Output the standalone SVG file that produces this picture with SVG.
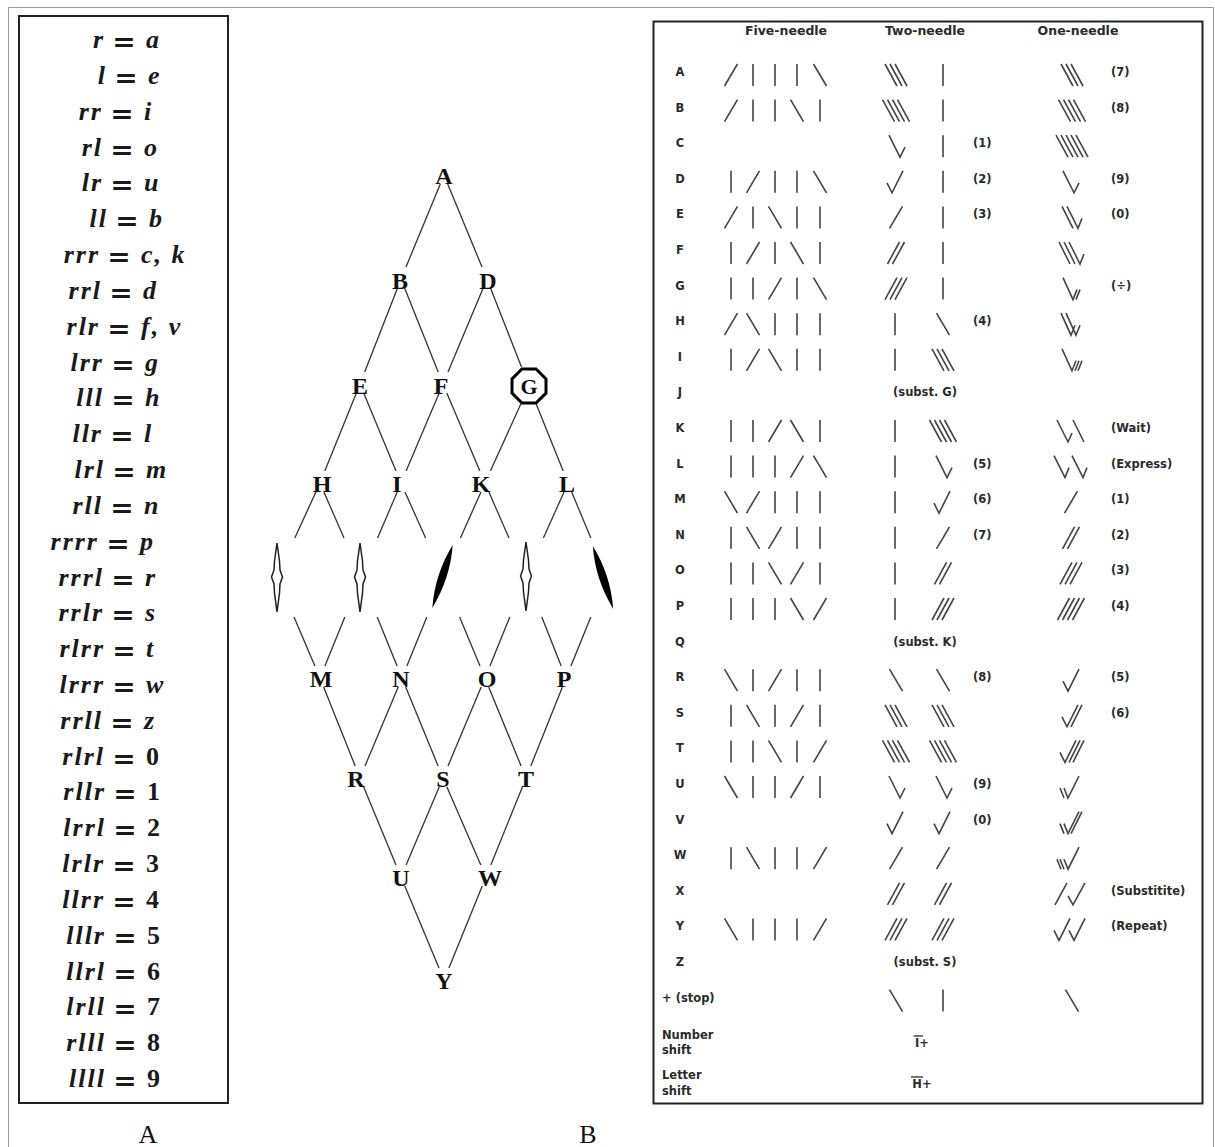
<svg xmlns="http://www.w3.org/2000/svg" width="1215" height="1147" viewBox="0 0 1215 1147">
<style>
.fx{font-family:"Liberation Serif",serif;font-size:26px;font-style:italic;font-weight:bold;fill:#1a1a1a;letter-spacing:2px}
.fe{text-anchor:end}
.eq{font-family:"DejaVu Serif",serif;font-size:28px;font-weight:bold;fill:#1a1a1a;text-anchor:middle}
.dg{font-style:normal;letter-spacing:0}
.nd{font-family:"Liberation Serif",serif;font-size:24px;font-weight:bold;fill:#111;text-anchor:middle}
.t{font-family:"DejaVu Sans",sans-serif;font-size:11.5px;font-weight:bold;fill:#2a2a2a}
.c{text-anchor:middle}
.h{font-size:12.5px;text-anchor:middle}
.ln{stroke:#333;stroke-width:1.3}
.cap{font-family:"Liberation Serif",serif;font-size:26px;fill:#111;text-anchor:middle}
</style>
<defs>
<path id="v" d="M0,-11V11"/>
<path id="f" d="M-6.5,11L6.5,-11"/>
<path id="b" d="M-6.5,-11L6.5,11"/>
<path id="b3" d="M-11,-11L1,11M-6,-11L6,11M-1,-11L11,11"/>
<path id="b4" d="M-13.5,-11L-1.5,11M-8.5,-11L3.5,11M-3.5,-11L8.5,11M1.5,-11L13.5,11"/>
<path id="b5" d="M-16,-11L-4,11M-11,-11L1,11M-6,-11L6,11M-1,-11L11,11M4,-11L16,11"/>
<path id="f2" d="M-8.5,11L3.5,-11M-3.5,11L8.5,-11"/>
<path id="f3" d="M-11,11L1,-11M-6,11L6,-11M-1,11L11,-11"/>
<path id="f4" d="M-13.5,11L-1.5,-11M-8.5,11L3.5,-11M-3.5,11L8.5,-11M1.5,11L13.5,-11"/>
<path id="bh" d="M-7,-11L4,11L9,1"/>
<path id="ck" d="M-9,1L-4,11L7,-11"/>
<path id="bbh" d="M-10,-11L1,11M-5,-11L6,11L10,1"/>
<path id="bbbh" d="M-13,-11L-2,11M-8,-11L3,11M-3,-11L8,11L12,1"/>
<path id="g1" d="M-8,-11L2,11L6,1M5,11L9,1"/>
<path id="h1" d="M-10,-11L0,11L4,1M-5,-11L5,11L9,1"/>
<path id="i1" d="M-8,-11L2,11L6,1M5,11L9,1M8,11L12,1"/>
<path id="k1" d="M-15,-11L-4,11L0,2M1,-11L12,11"/>
<path id="l1" d="M-18,-11L-7,11L-3,1M0,-11L11,11L15,1"/>
<path id="ckf" d="M-10,1L-5,11L6,-11M-1,11L10,-11"/>
<path id="ckff" d="M-12,1L-7,11L4,-11M-3,11L8,-11M1,11L12,-11"/>
<path id="u1" d="M-12,1L-8,11M-8,1L-4,11L7,-11"/>
<path id="v1" d="M-12,1L-8,11M-8,1L-4,11L7,-11M-1,11L10,-11"/>
<path id="w1" d="M-15,1L-11,11M-12,1L-8,11M-8,1L-4,11L7,-11"/>
<path id="x1" d="M-17,11L-5,-11M-4,2L1,11L13,-11"/>
<path id="y1" d="M-18,1L-13,11L-2,-11M-3,1L2,11L13,-11"/>
<path id="needleOpen" d="M0,-34L2.5,-16L3,-7L5.5,0L3,7L2.5,16L0,35L-2.5,16L-3,7L-5.5,0L-3,-7L-2.5,-16Z"/>
<path id="needleFill" d="M0,-33Q8,0 0,33Q-8,0 0,-33Z"/>
</defs>
<rect width="1215" height="1147" fill="#fff"/>
<path d="M8.5,1147V7.5H1213.5V1147" fill="none" stroke="#999" stroke-width="1"/>

<!-- Panel A: formulas -->
<g id="panel-A">
<rect x="19" y="16" width="209" height="1087" fill="none" stroke="#222" stroke-width="2"/>
<text class="fx fe" x="105" y="48">r</text><text class="eq" x="124" y="51">=</text><text class="fx" x="146" y="48">a</text>
<text class="fx fe" x="107" y="83.8">l</text><text class="eq" x="126" y="86.8">=</text><text class="fx" x="148" y="83.8">e</text>
<text class="fx fe" x="103" y="119.7">rr</text><text class="eq" x="122" y="122.7">=</text><text class="fx" x="144" y="119.7">i</text>
<text class="fx fe" x="103" y="155.5">rl</text><text class="eq" x="122" y="158.5">=</text><text class="fx" x="144" y="155.5">o</text>
<text class="fx fe" x="103" y="191.3">lr</text><text class="eq" x="122" y="194.3">=</text><text class="fx" x="144" y="191.3">u</text>
<text class="fx fe" x="108" y="227.2">ll</text><text class="eq" x="127" y="230.2">=</text><text class="fx" x="149" y="227.2">b</text>
<text class="fx fe" x="100" y="263">rrr</text><text class="eq" x="119" y="266">=</text><text class="fx" x="141" y="263">c, k</text>
<text class="fx fe" x="102" y="298.8">rrl</text><text class="eq" x="121" y="301.8">=</text><text class="fx" x="143" y="298.8">d</text>
<text class="fx fe" x="100" y="334.6">rlr</text><text class="eq" x="119" y="337.6">=</text><text class="fx" x="141" y="334.6">f, v</text>
<text class="fx fe" x="104" y="370.5">lrr</text><text class="eq" x="123" y="373.5">=</text><text class="fx" x="145" y="370.5">g</text>
<text class="fx fe" x="104" y="406.3">lll</text><text class="eq" x="123" y="409.3">=</text><text class="fx" x="145" y="406.3">h</text>
<text class="fx fe" x="103" y="442.1">llr</text><text class="eq" x="122" y="445.1">=</text><text class="fx" x="144" y="442.1">l</text>
<text class="fx fe" x="105" y="478">lrl</text><text class="eq" x="124" y="481">=</text><text class="fx" x="146" y="478">m</text>
<text class="fx fe" x="103" y="513.8">rll</text><text class="eq" x="122" y="516.8">=</text><text class="fx" x="144" y="513.8">n</text>
<text class="fx fe" x="99" y="549.6">rrrr</text><text class="eq" x="118" y="552.6">=</text><text class="fx" x="140" y="549.6">p</text>
<text class="fx fe" x="104" y="585.5">rrrl</text><text class="eq" x="123" y="588.5">=</text><text class="fx" x="145" y="585.5">r</text>
<text class="fx fe" x="104" y="621.3">rrlr</text><text class="eq" x="123" y="624.3">=</text><text class="fx" x="145" y="621.3">s</text>
<text class="fx fe" x="105" y="657.1">rlrr</text><text class="eq" x="124" y="660.1">=</text><text class="fx" x="146" y="657.1">t</text>
<text class="fx fe" x="105" y="692.9">lrrr</text><text class="eq" x="124" y="695.9">=</text><text class="fx" x="146" y="692.9">w</text>
<text class="fx fe" x="103" y="728.8">rrll</text><text class="eq" x="122" y="731.8">=</text><text class="fx" x="144" y="728.8">z</text>
<text class="fx fe" x="105" y="764.6">rlrl</text><text class="eq" x="124" y="767.6">=</text><text class="fx dg" x="146" y="764.6">0</text>
<text class="fx fe" x="106" y="800.4">rllr</text><text class="eq" x="125" y="803.4">=</text><text class="fx dg" x="147" y="800.4">1</text>
<text class="fx fe" x="106" y="836.3">lrrl</text><text class="eq" x="125" y="839.3">=</text><text class="fx dg" x="147" y="836.3">2</text>
<text class="fx fe" x="105" y="872.1">lrlr</text><text class="eq" x="124" y="875.1">=</text><text class="fx dg" x="146" y="872.1">3</text>
<text class="fx fe" x="105" y="907.9">llrr</text><text class="eq" x="124" y="910.9">=</text><text class="fx dg" x="146" y="907.9">4</text>
<text class="fx fe" x="106" y="943.8">lllr</text><text class="eq" x="125" y="946.8">=</text><text class="fx dg" x="147" y="943.8">5</text>
<text class="fx fe" x="106" y="979.6">llrl</text><text class="eq" x="125" y="982.6">=</text><text class="fx dg" x="147" y="979.6">6</text>
<text class="fx fe" x="106" y="1015.4">lrll</text><text class="eq" x="125" y="1018.4">=</text><text class="fx dg" x="147" y="1015.4">7</text>
<text class="fx fe" x="106" y="1051.2">rlll</text><text class="eq" x="125" y="1054.2">=</text><text class="fx dg" x="147" y="1051.2">8</text>
<text class="fx fe" x="106" y="1087.1">llll</text><text class="eq" x="125" y="1090.1">=</text><text class="fx dg" x="147" y="1087.1">9</text>
<text class="cap" x="148" y="1143">A</text>
</g>

<!-- Diamond: connectors -->
<g id="connectors" class="ln">
<line x1="440.3" y1="184" x2="406" y2="267"/>
<line x1="447.7" y1="184" x2="482" y2="267"/>
<line x1="397.5" y1="288" x2="364.7" y2="372"/>
<line x1="404.6" y1="288" x2="438.2" y2="372"/>
<line x1="483.2" y1="288" x2="448" y2="372"/>
<line x1="490.5" y1="288" x2="521.5" y2="367"/>
<line x1="356.4" y1="393" x2="324.8" y2="471"/>
<line x1="363.7" y1="393" x2="396" y2="471"/>
<line x1="439.2" y1="393" x2="406.1" y2="471"/>
<line x1="446.8" y1="393" x2="479.9" y2="471"/>
<line x1="520.8" y1="404" x2="490.4" y2="471"/>
<line x1="536.2" y1="404" x2="563.2" y2="471"/>
<line x1="315.9" y1="492" x2="294.8" y2="538"/>
<line x1="323.9" y1="492" x2="344" y2="538"/>
<line x1="397.2" y1="492" x2="377.6" y2="538"/>
<line x1="405" y1="492" x2="425.6" y2="538"/>
<line x1="481" y1="492" x2="460.4" y2="538"/>
<line x1="488.9" y1="492" x2="509" y2="538"/>
<line x1="564" y1="492" x2="543.4" y2="538"/>
<line x1="571.7" y1="492" x2="590.8" y2="538"/>
<line x1="294" y1="617" x2="314.9" y2="666"/>
<line x1="344.8" y1="617" x2="324.9" y2="666"/>
<line x1="377.2" y1="617" x2="397.1" y2="666"/>
<line x1="426.8" y1="617" x2="406.9" y2="666"/>
<line x1="459.6" y1="617" x2="480" y2="666"/>
<line x1="509.8" y1="617" x2="489.9" y2="666"/>
<line x1="541.8" y1="617" x2="561.2" y2="666"/>
<line x1="590.8" y1="617" x2="570.9" y2="666"/>
<line x1="323.6" y1="687" x2="355.2" y2="766"/>
<line x1="398.2" y1="687" x2="365" y2="766"/>
<line x1="405.7" y1="687" x2="438.1" y2="766"/>
<line x1="481.2" y1="687" x2="448" y2="766"/>
<line x1="488.7" y1="687" x2="521.1" y2="766"/>
<line x1="562.4" y1="687" x2="530.8" y2="766"/>
<line x1="363.7" y1="787" x2="396" y2="865"/>
<line x1="439.2" y1="787" x2="406.1" y2="865"/>
<line x1="446.9" y1="787" x2="480.8" y2="865"/>
<line x1="522.4" y1="787" x2="490.8" y2="865"/>
<line x1="404.8" y1="886" x2="439" y2="968"/>
<line x1="482.3" y1="886" x2="448.9" y2="968"/>
</g>

<!-- Diamond: nodes -->
<g id="node-A"><text class="nd" x="444" y="183.5">A</text></g>
<g id="node-B"><text class="nd" x="400" y="288.5">B</text></g>
<g id="node-D"><text class="nd" x="488" y="288.5">D</text></g>
<g id="node-E"><text class="nd" x="360" y="393.5">E</text></g>
<g id="node-F"><text class="nd" x="441" y="393.5">F</text></g>
<g id="node-G"><polygon points="546,378.96 536.04,369 521.96,369 512,378.96 512,393.04 521.96,403 536.04,403 546,393.04" fill="none" stroke="#000" stroke-width="3"/><text class="nd" x="529" y="394" style="font-size:22px">G</text></g>
<g id="node-H"><text class="nd" x="322" y="491.5">H</text></g>
<g id="node-I"><text class="nd" x="397" y="491.5">I</text></g>
<g id="node-K"><text class="nd" x="481" y="491.5">K</text></g>
<g id="node-L"><text class="nd" x="567" y="491.5">L</text></g>
<g id="needle-1"><use href="#needleOpen" x="277" y="577" fill="#fff" stroke="#222" stroke-width="1.5"/></g>
<g id="needle-2"><use href="#needleOpen" x="360" y="577" fill="#fff" stroke="#222" stroke-width="1.5"/></g>
<g id="needle-3"><use href="#needleFill" transform="translate(442.5,576.5) rotate(18)" fill="#000"/></g>
<g id="needle-4"><use href="#needleOpen" x="526" y="576" fill="#fff" stroke="#222" stroke-width="1.5"/></g>
<g id="needle-5"><use href="#needleFill" transform="translate(603,577.5) rotate(-18)" fill="#000"/></g>
<g id="node-M"><text class="nd" x="321" y="686.5">M</text></g>
<g id="node-N"><text class="nd" x="401" y="686.5">N</text></g>
<g id="node-O"><text class="nd" x="487" y="686.5">O</text></g>
<g id="node-P"><text class="nd" x="564" y="686.5">P</text></g>
<g id="node-R"><text class="nd" x="356" y="786.5">R</text></g>
<g id="node-S"><text class="nd" x="443" y="786.5">S</text></g>
<g id="node-T"><text class="nd" x="526" y="786.5">T</text></g>
<g id="node-U"><text class="nd" x="401" y="885.5">U</text></g>
<g id="node-W"><text class="nd" x="490" y="885.5">W</text></g>
<g id="node-Y"><text class="nd" x="444" y="988.5">Y</text></g>
<text class="cap" x="588" y="1143">B</text>

<!-- Panel B: needle code table -->
<g id="panel-B">
<rect x="653.5" y="21.5" width="549" height="1082" fill="none" stroke="#222" stroke-width="2"/>
<text class="t h" x="786" y="35">Five-needle</text>
<text class="t h" x="925" y="35">Two-needle</text>
<text class="t h" x="1078" y="35">One-needle</text>
<g class="t c">
<text x="680" y="76">A</text><text x="680" y="111.6">B</text><text x="680" y="147.2">C</text><text x="680" y="182.8">D</text>
<text x="680" y="218.4">E</text><text x="680" y="254">F</text><text x="680" y="289.6">G</text><text x="680" y="325.2">H</text>
<text x="680" y="360.8">I</text><text x="680" y="396.4">J</text><text x="680" y="432">K</text><text x="680" y="467.6">L</text>
<text x="680" y="503.2">M</text><text x="680" y="538.8">N</text><text x="680" y="574.4">O</text><text x="680" y="610">P</text>
<text x="680" y="645.6">Q</text><text x="680" y="681.2">R</text><text x="680" y="716.8">S</text><text x="680" y="752.4">T</text>
<text x="680" y="788">U</text><text x="680" y="823.6">V</text><text x="680" y="859.2">W</text><text x="680" y="894.8">X</text>
<text x="680" y="930.4">Y</text><text x="680" y="966">Z</text>
<text x="925" y="396.4">(subst. G)</text>
<text x="925" y="645.6">(subst. K)</text>
<text x="925" y="966">(subst. S)</text>
<text x="922" y="1047">I+</text>
<text x="922" y="1088">H+</text>
</g>
<text class="t" x="662" y="1001.6">+ (stop)</text>
<text class="t" x="662" y="1039">Number</text>
<text class="t" x="662" y="1054">shift</text>
<text class="t" x="662" y="1079">Letter</text>
<text class="t" x="662" y="1095">shift</text>
<line x1="913.5" y1="1036" x2="923" y2="1036" stroke="#2a2a2a" stroke-width="1.3"/>
<line x1="911" y1="1077" x2="923" y2="1077" stroke="#2a2a2a" stroke-width="1.3"/>
<g class="t">
<text x="973" y="147.2">(1)</text><text x="973" y="182.8">(2)</text><text x="973" y="218.4">(3)</text><text x="973" y="325.2">(4)</text>
<text x="973" y="467.6">(5)</text><text x="973" y="503.2">(6)</text><text x="973" y="538.8">(7)</text><text x="973" y="681.2">(8)</text>
<text x="973" y="788">(9)</text><text x="973" y="823.6">(0)</text>
<text x="1111" y="76">(7)</text><text x="1111" y="111.6">(8)</text><text x="1111" y="182.8">(9)</text><text x="1111" y="218.4">(0)</text>
<text x="1111" y="289.6">(÷)</text><text x="1111" y="432">(Wait)</text><text x="1111" y="467.6">(Express)</text>
<text x="1111" y="503.2">(1)</text><text x="1111" y="538.8">(2)</text><text x="1111" y="574.4">(3)</text><text x="1111" y="610">(4)</text>
<text x="1111" y="681.2">(5)</text><text x="1111" y="716.8">(6)</text>
<text x="1111" y="894.8">(Substitite)</text><text x="1111" y="930.4">(Repeat)</text>
</g>
<g fill="none" stroke="#444" stroke-width="1.6">
<!-- A -->
<use href="#f" x="731" y="75"/><use href="#v" x="753" y="75"/><use href="#v" x="775" y="75"/><use href="#v" x="797" y="75"/><use href="#b" x="820" y="75"/>
<use href="#b3" x="896" y="75"/><use href="#v" x="943" y="75"/><use href="#b3" x="1072" y="75"/>
<!-- B -->
<use href="#f" x="731" y="110.6"/><use href="#v" x="753" y="110.6"/><use href="#v" x="775" y="110.6"/><use href="#b" x="797" y="110.6"/><use href="#v" x="820" y="110.6"/>
<use href="#b4" x="896" y="110.6"/><use href="#v" x="943" y="110.6"/><use href="#b4" x="1072" y="110.6"/>
<!-- C -->
<use href="#bh" x="896" y="146.2"/><use href="#v" x="943" y="146.2"/><use href="#b5" x="1072" y="146.2"/>
<!-- D -->
<use href="#v" x="731" y="181.8"/><use href="#f" x="753" y="181.8"/><use href="#v" x="775" y="181.8"/><use href="#v" x="797" y="181.8"/><use href="#b" x="820" y="181.8"/>
<use href="#ck" x="896" y="181.8"/><use href="#v" x="943" y="181.8"/><use href="#bh" x="1070" y="181.8"/>
<!-- E -->
<use href="#f" x="731" y="217.4"/><use href="#v" x="753" y="217.4"/><use href="#b" x="775" y="217.4"/><use href="#v" x="797" y="217.4"/><use href="#v" x="820" y="217.4"/>
<use href="#f" x="896" y="217.4"/><use href="#v" x="943" y="217.4"/><use href="#bbh" x="1072" y="217.4"/>
<!-- F -->
<use href="#v" x="731" y="253"/><use href="#f" x="753" y="253"/><use href="#v" x="775" y="253"/><use href="#b" x="797" y="253"/><use href="#v" x="820" y="253"/>
<use href="#f2" x="896" y="253"/><use href="#v" x="943" y="253"/><use href="#bbbh" x="1072" y="253"/>
<!-- G -->
<use href="#v" x="731" y="288.6"/><use href="#v" x="753" y="288.6"/><use href="#f" x="775" y="288.6"/><use href="#v" x="797" y="288.6"/><use href="#b" x="820" y="288.6"/>
<use href="#f3" x="896" y="288.6"/><use href="#v" x="943" y="288.6"/><use href="#g1" x="1071" y="288.6"/>
<!-- H -->
<use href="#f" x="731" y="324.2"/><use href="#b" x="753" y="324.2"/><use href="#v" x="775" y="324.2"/><use href="#v" x="797" y="324.2"/><use href="#v" x="820" y="324.2"/>
<use href="#v" x="895" y="324.2"/><use href="#b" x="943" y="324.2"/><use href="#h1" x="1071" y="324.2"/>
<!-- I -->
<use href="#v" x="731" y="359.8"/><use href="#f" x="753" y="359.8"/><use href="#b" x="775" y="359.8"/><use href="#v" x="797" y="359.8"/><use href="#v" x="820" y="359.8"/>
<use href="#v" x="895" y="359.8"/><use href="#b3" x="943" y="359.8"/><use href="#i1" x="1070" y="359.8"/>
<!-- K -->
<use href="#v" x="731" y="431"/><use href="#v" x="753" y="431"/><use href="#f" x="775" y="431"/><use href="#b" x="797" y="431"/><use href="#v" x="820" y="431"/>
<use href="#v" x="895" y="431"/><use href="#b4" x="943" y="431"/><use href="#k1" x="1072" y="431"/>
<!-- L -->
<use href="#v" x="731" y="466.6"/><use href="#v" x="753" y="466.6"/><use href="#v" x="775" y="466.6"/><use href="#f" x="797" y="466.6"/><use href="#b" x="820" y="466.6"/>
<use href="#v" x="895" y="466.6"/><use href="#bh" x="943" y="466.6"/><use href="#l1" x="1072" y="466.6"/>
<!-- M -->
<use href="#b" x="731" y="502.2"/><use href="#f" x="753" y="502.2"/><use href="#v" x="775" y="502.2"/><use href="#v" x="797" y="502.2"/><use href="#v" x="820" y="502.2"/>
<use href="#v" x="895" y="502.2"/><use href="#ck" x="943" y="502.2"/><use href="#f" x="1071" y="502.2"/>
<!-- N -->
<use href="#v" x="731" y="537.8"/><use href="#b" x="753" y="537.8"/><use href="#f" x="775" y="537.8"/><use href="#v" x="797" y="537.8"/><use href="#v" x="820" y="537.8"/>
<use href="#v" x="895" y="537.8"/><use href="#f" x="943" y="537.8"/><use href="#f2" x="1071" y="537.8"/>
<!-- O -->
<use href="#v" x="731" y="573.4"/><use href="#v" x="753" y="573.4"/><use href="#b" x="775" y="573.4"/><use href="#f" x="797" y="573.4"/><use href="#v" x="820" y="573.4"/>
<use href="#v" x="895" y="573.4"/><use href="#f2" x="943" y="573.4"/><use href="#f3" x="1071" y="573.4"/>
<!-- P -->
<use href="#v" x="731" y="609"/><use href="#v" x="753" y="609"/><use href="#v" x="775" y="609"/><use href="#b" x="797" y="609"/><use href="#f" x="820" y="609"/>
<use href="#v" x="895" y="609"/><use href="#f3" x="943" y="609"/><use href="#f4" x="1071" y="609"/>
<!-- R -->
<use href="#b" x="731" y="680.2"/><use href="#v" x="753" y="680.2"/><use href="#f" x="775" y="680.2"/><use href="#v" x="797" y="680.2"/><use href="#v" x="820" y="680.2"/>
<use href="#b" x="896" y="680.2"/><use href="#b" x="943" y="680.2"/><use href="#ck" x="1072" y="680.2"/>
<!-- S -->
<use href="#v" x="731" y="715.8"/><use href="#b" x="753" y="715.8"/><use href="#v" x="775" y="715.8"/><use href="#f" x="797" y="715.8"/><use href="#v" x="820" y="715.8"/>
<use href="#b3" x="896" y="715.8"/><use href="#b3" x="943" y="715.8"/><use href="#ckf" x="1072" y="715.8"/>
<!-- T -->
<use href="#v" x="731" y="751.4"/><use href="#v" x="753" y="751.4"/><use href="#b" x="775" y="751.4"/><use href="#v" x="797" y="751.4"/><use href="#f" x="820" y="751.4"/>
<use href="#b4" x="896" y="751.4"/><use href="#b4" x="943" y="751.4"/><use href="#ckff" x="1072" y="751.4"/>
<!-- U -->
<use href="#b" x="731" y="787"/><use href="#v" x="753" y="787"/><use href="#v" x="775" y="787"/><use href="#f" x="797" y="787"/><use href="#v" x="820" y="787"/>
<use href="#bh" x="896" y="787"/><use href="#bh" x="943" y="787"/><use href="#u1" x="1072" y="787"/>
<!-- V -->
<use href="#ck" x="896" y="822.6"/><use href="#ck" x="943" y="822.6"/><use href="#v1" x="1072" y="822.6"/>
<!-- W -->
<use href="#v" x="731" y="858.2"/><use href="#b" x="753" y="858.2"/><use href="#v" x="775" y="858.2"/><use href="#v" x="797" y="858.2"/><use href="#f" x="820" y="858.2"/>
<use href="#f" x="896" y="858.2"/><use href="#f" x="943" y="858.2"/><use href="#w1" x="1072" y="858.2"/>
<!-- X -->
<use href="#f2" x="896" y="893.8"/><use href="#f2" x="943" y="893.8"/><use href="#x1" x="1072" y="893.8"/>
<!-- Y -->
<use href="#b" x="731" y="929.4"/><use href="#v" x="753" y="929.4"/><use href="#v" x="775" y="929.4"/><use href="#v" x="797" y="929.4"/><use href="#f" x="820" y="929.4"/>
<use href="#f3" x="896" y="929.4"/><use href="#f3" x="943" y="929.4"/><use href="#y1" x="1072" y="929.4"/>
<!-- + (stop) -->
<use href="#b" x="896" y="1000.6"/><use href="#v" x="943" y="1000.6"/><use href="#b" x="1072" y="1000.6"/>
</g>
</g>
</svg>
